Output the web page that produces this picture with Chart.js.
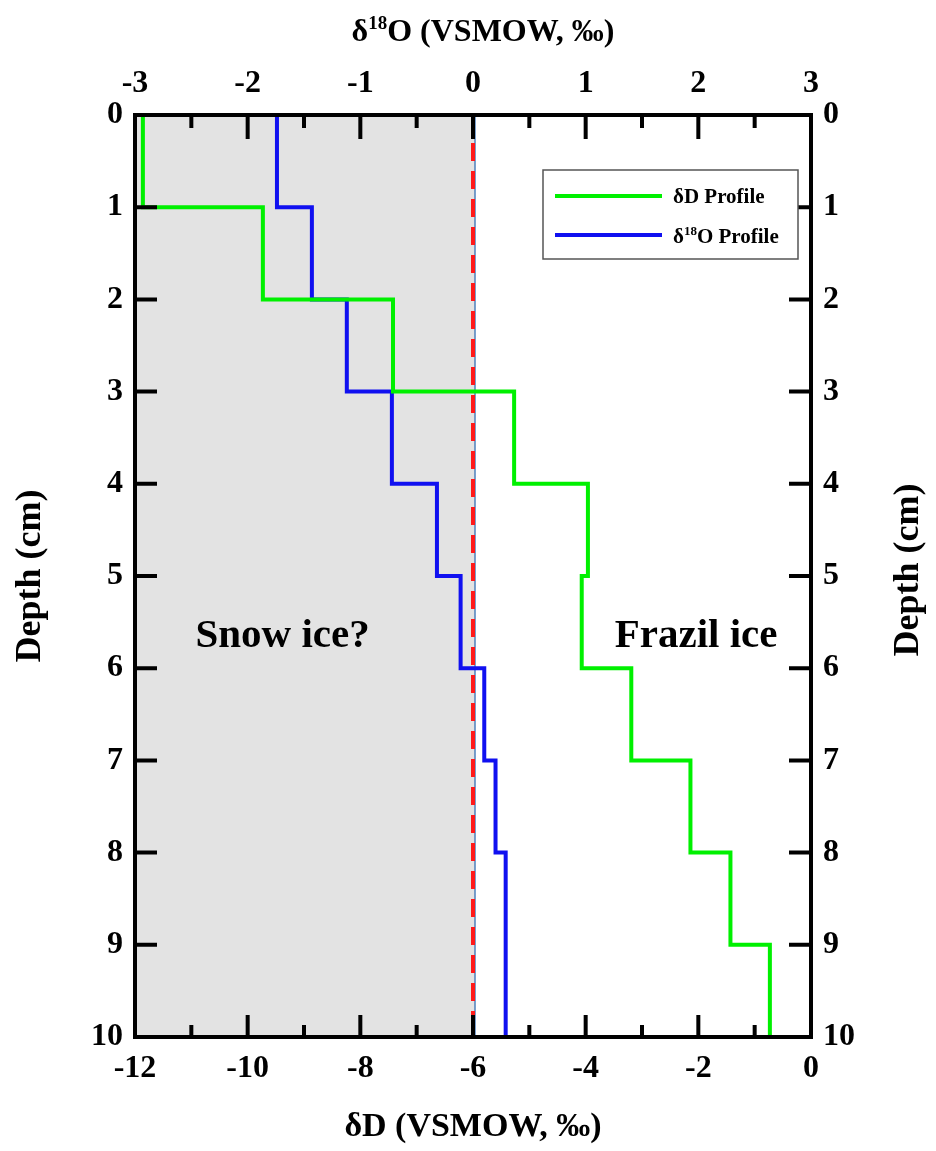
<!DOCTYPE html>
<html>
<head>
<meta charset="utf-8">
<script src="https://cdn.jsdelivr.net/npm/chart.js@4"></script>
<style>
  body { margin: 0; background: #fff; }
  canvas { display: block; }
</style>
</head>
<body>
<canvas id="myChart" width="936" height="1151"></canvas>
<script>
// DATOS

// depth layers (cm)
const layerTop    = [0, 1, 2, 3, 4, 5, 6, 7, 8, 9];
const layerBottom = [1, 2, 3, 4, 5, 6, 7, 8, 9, 10];

// δD profile (‰) and δ18O profile (‰), one value per layer
const dDValues   = [-11.86, -9.73, -7.42, -5.27, -3.96, -4.07, -3.19, -2.14, -1.43, -0.73];
const d18OValues = [-1.74, -1.43, -1.12, -0.72, -0.32, -0.11, 0.10, 0.20, 0.29, 0.29];

// axis ticks
const dDTicks   = [-12, -10, -8, -6, -4, -2, 0];
const d18OTicks = [-3, -2, -1, 0, 1, 2, 3];
const depthTicks = [0, 1, 2, 3, 4, 5, 6, 7, 8, 9, 10];

const snowIceLimit = -6;   // δD boundary, shaded region and dashed line

const SERIF = "'Liberation Serif', 'Times New Roman', serif";

const stepPoints = (values) => {
    const pts = [];
    values.forEach((v, i) => {
        pts.push({ x: v, y: layerTop[i] });
        pts.push({ x: v, y: layerBottom[i] });
    });
    return pts;
};

const tickFont = { family: SERIF, size: 32, weight: 'bold' };

// PLUGIN: shading, dashed line, frame, inward ticks, texts

const extras = {
    id: 'extras',
    beforeDatasetsDraw(chart) {
        const { ctx, chartArea: a, scales: { x } } = chart;
        const xl = x.getPixelForValue(x.min);
        const xr = x.getPixelForValue(snowIceLimit);
        ctx.save();
        ctx.fillStyle = '#e3e3e3';
        ctx.fillRect(xl, a.top, xr - xl + 2, a.bottom - a.top);
        ctx.strokeStyle = '#4f81bd';
        ctx.lineWidth = 1.5;
        ctx.beginPath();
        ctx.moveTo(xr + 2, a.top);
        ctx.lineTo(xr + 2, a.bottom + 1);
        ctx.lineTo(xl, a.bottom + 1);
        ctx.stroke();
        ctx.restore();
    },
    afterDatasetsDraw(chart) {
        const { ctx, chartArea: a, scales: { x, x2, y } } = chart;
        ctx.save();

        // dashed line at δD = -6
        const xr = x.getPixelForValue(snowIceLimit);
        ctx.strokeStyle = '#ff1a1a';
        ctx.lineWidth = 4;
        ctx.setLineDash([18, 10]);
        ctx.beginPath();
        ctx.moveTo(xr, a.top);
        ctx.lineTo(xr, a.bottom);
        ctx.stroke();
        ctx.setLineDash([]);

        // region labels
        ctx.fillStyle = '#000';
        ctx.font = `bold 41px ${SERIF}`;
        ctx.textAlign = 'center';
        ctx.textBaseline = 'middle';
        ctx.fillText('Snow ice?', x.getPixelForValue(-9.38), y.getPixelForValue(5.66));
        ctx.fillText('Frazil ice', x.getPixelForValue(-2.04), y.getPixelForValue(5.66));

        // frame
        ctx.strokeStyle = '#000';
        ctx.lineWidth = 4;
        ctx.strokeRect(a.left, a.top, a.right - a.left, a.bottom - a.top);

        // inward ticks
        ctx.beginPath();
        for (let v = -12; v <= 0; v += 1) {
            const px = x.getPixelForValue(v);
            const len = v % 2 === 0 ? 22 : 12;
            ctx.moveTo(px, a.bottom);
            ctx.lineTo(px, a.bottom - len);
        }
        for (let v = -3; v <= 3; v += 0.5) {
            const px = x2.getPixelForValue(v);
            const len = Number.isInteger(v) ? 24 : 13;
            ctx.moveTo(px, a.top);
            ctx.lineTo(px, a.top + len);
        }
        depthTicks.forEach(d => {
            const py = y.getPixelForValue(d);
            ctx.moveTo(a.left, py);
            ctx.lineTo(a.left + 22, py);
            ctx.moveTo(a.right, py);
            ctx.lineTo(a.right - 22, py);
        });
        ctx.stroke();

        // legend
        const lx = 543, ly = 170, lw = 255, lh = 89;
        ctx.fillStyle = '#fff';
        ctx.fillRect(lx, ly, lw, lh);
        ctx.strokeStyle = '#555';
        ctx.lineWidth = 1.5;
        ctx.strokeRect(lx, ly, lw, lh);
        ctx.lineWidth = 4;
        ctx.strokeStyle = '#00f000';
        ctx.beginPath(); ctx.moveTo(555, 196); ctx.lineTo(662, 196); ctx.stroke();
        ctx.strokeStyle = '#1010f0';
        ctx.beginPath(); ctx.moveTo(555, 235); ctx.lineTo(662, 235); ctx.stroke();
        ctx.fillStyle = '#000';
        drawParts(ctx, [['δD Profile', 21, 0]], 673, 203, 'left');
        drawParts(ctx, [['δ', 21, 0], ['18', 13, -8], ['O Profile', 21, 0]], 673, 243, 'left');

        // top title
        drawParts(ctx, [['δ', 32, 0], ['18', 19, -12], ['O (VSMOW, ‰)', 32, 0]], 483, 41, 'center');

        // right title (reads bottom to top like the left one)
        ctx.save();
        ctx.translate(918, (a.top + a.bottom) / 2 - 6);
        ctx.rotate(-Math.PI / 2);
        drawParts(ctx, [['Depth (cm)', 36, 0]], 0, 0, 'center');
        ctx.restore();

        ctx.restore();
    }
};

function drawParts(ctx, parts, x, y, align) {
    let total = 0;
    parts.forEach(([t, s]) => {
        ctx.font = `bold ${s}px ${SERIF}`;
        total += ctx.measureText(t).width;
    });
    let cx = align === 'center' ? x - total / 2 : x;
    ctx.textAlign = 'left';
    ctx.textBaseline = 'alphabetic';
    parts.forEach(([t, s, dy]) => {
        ctx.font = `bold ${s}px ${SERIF}`;
        ctx.fillText(t, cx, y + dy);
        cx += ctx.measureText(t).width;
    });
}

// GRAFICA

const ctx = document.getElementById('myChart');

const myChart = new Chart(ctx, {
    type: 'scatter',
    data: {
        datasets: [{
            label: 'δD Profile',
            data: stepPoints(dDValues),
            xAxisID: 'x',
            yAxisID: 'y',
            showLine: true,
            borderColor: '#00f000',
            borderWidth: 4,
            pointRadius: 0,
            tension: 0
        }, {
            label: 'δ18O Profile',
            data: stepPoints(d18OValues),
            xAxisID: 'x2',
            yAxisID: 'y',
            showLine: true,
            borderColor: '#1010f0',
            borderWidth: 4,
            pointRadius: 0,
            tension: 0
        }]
    },
    options: {
        responsive: false,
        animation: false,
        devicePixelRatio: 1,
        layout: { padding: 0 },
        plugins: {
            legend: { display: false },
            tooltip: { enabled: false }
        },
        scales: {
            x: {
                type: 'linear',
                position: 'bottom',
                min: dDTicks[0],
                max: dDTicks[dDTicks.length - 1],
                afterBuildTicks: s => { s.ticks = dDTicks.map(v => ({ value: v })); },
                ticks: { font: tickFont, color: '#000', padding: 13, maxRotation: 0 },
                grid: { display: false, drawTicks: false },
                border: { display: false },
                title: {
                    display: true,
                    text: 'δD (VSMOW, ‰)',
                    color: '#000',
                    font: { family: SERIF, size: 34, weight: 'bold' },
                    padding: { top: 0, bottom: 3 }
                },
                afterFit: s => { s.height = 114; }
            },
            x2: {
                type: 'linear',
                position: 'top',
                min: d18OTicks[0],
                max: d18OTicks[d18OTicks.length - 1],
                afterBuildTicks: s => { s.ticks = d18OTicks.map(v => ({ value: v })); },
                ticks: { font: tickFont, color: '#000', padding: 12, maxRotation: 0 },
                grid: { display: false, drawTicks: false },
                border: { display: false },
                afterFit: s => { s.height = 115; }
            },
            y: {
                type: 'linear',
                position: 'left',
                reverse: true,
                min: 0,
                max: 10,
                afterBuildTicks: s => { s.ticks = depthTicks.map(v => ({ value: v })); },
                ticks: { font: tickFont, color: '#000', padding: 12 },
                grid: { display: false, drawTicks: false },
                border: { display: false },
                title: {
                    display: true,
                    text: 'Depth (cm)',
                    color: '#000',
                    font: { family: SERIF, size: 36, weight: 'bold' },
                    padding: { top: 9, bottom: 0 }
                },
                afterFit: s => { s.width = 135; }
            },
            y2: {
                type: 'linear',
                position: 'right',
                reverse: true,
                min: 0,
                max: 10,
                afterBuildTicks: s => { s.ticks = depthTicks.map(v => ({ value: v })); },
                ticks: { font: tickFont, color: '#000', padding: 12 },
                grid: { display: false, drawTicks: false },
                border: { display: false },
                afterFit: s => { s.width = 125; }
            }
        }
    },
    plugins: [extras]
});
</script>
</body>
</html>
